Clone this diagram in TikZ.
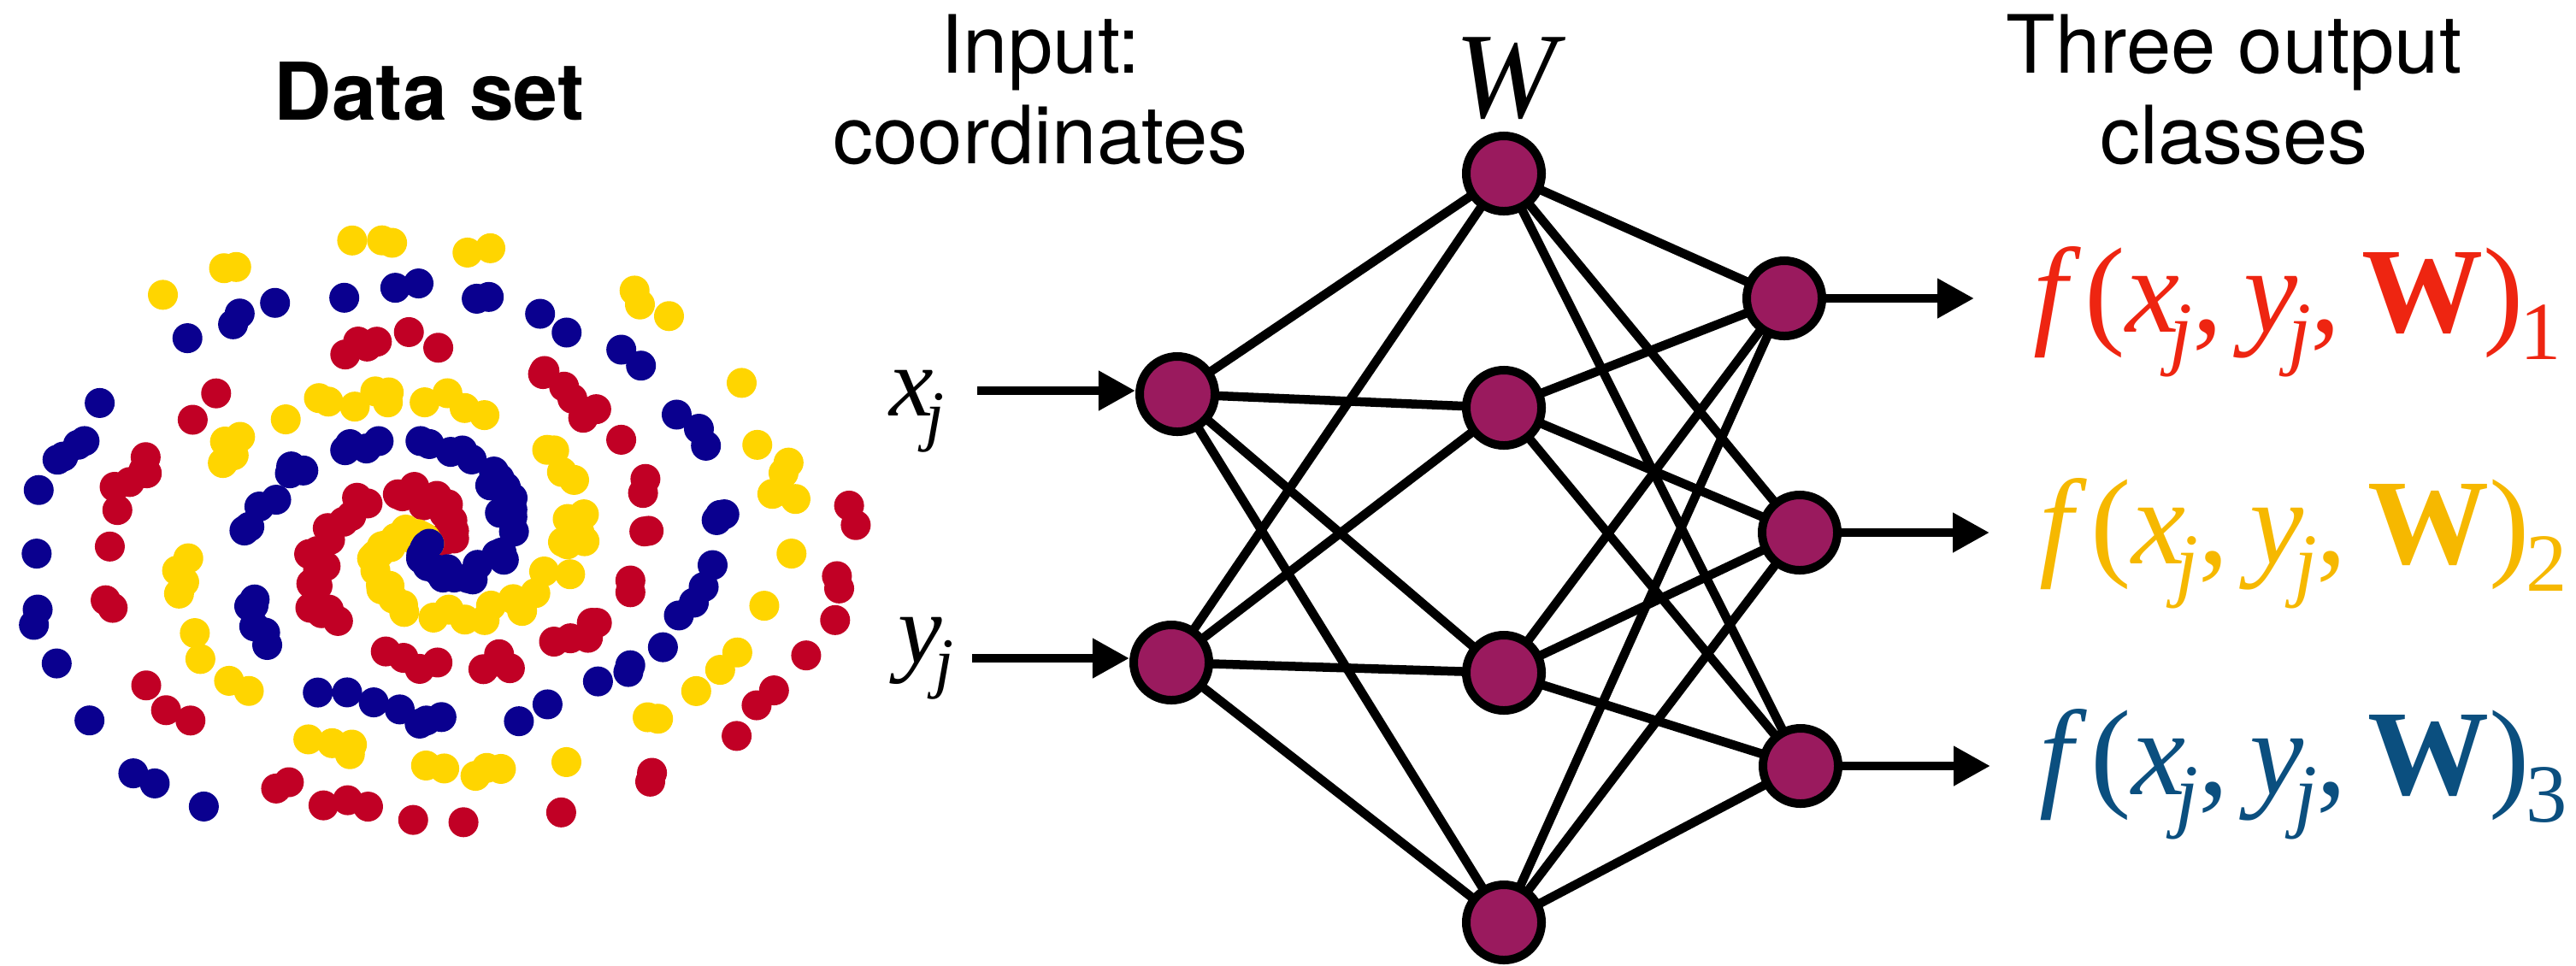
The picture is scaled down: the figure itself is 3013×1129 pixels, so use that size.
\documentclass[tikz,border=0pt]{standalone}
\usepackage{fontspec}
\usepackage{graphicx}
\usetikzlibrary{arrows.meta,backgrounds}
\newfontfamily\heros{TeX Gyre Heros}
\newfontfamily\tms{Liberation Serif}
\definecolor{neuronfill}{HTML}{9A1A5E}
\definecolor{dotred}{HTML}{C10025}
\definecolor{dotyellow}{HTML}{FFD500}
\definecolor{dotblue}{HTML}{0A008F}
\definecolor{outred}{HTML}{EE2511}
\definecolor{outyellow}{HTML}{F6B800}
\definecolor{outblue}{HTML}{0B4F7F}
% lowered, shrunken subscript tucked under the preceding italic letter
\newcommand\lowsub[1]{\kern-0.08em\raisebox{-0.23em}{\scalebox{0.68}{#1}}}
% class score f(x_j, y_j, W)_k
\newcommand\classscore[1]{\textit{f}\kern0.03em(\textit{x}\lowsub{\textit{j}},\hspace{0.17em}\textit{y}\lowsub{\textit{j}},\hspace{0.17em}\textbf{W})\kern0.05em\lowsub{#1}}
\begin{document}
\begin{tikzpicture}[x=0.01cm, y=-0.01cm,
  neuron/.style={circle, draw=black, fill=neuronfill, line width=0.1cm,
    minimum size=0.88cm, inner sep=0pt},
  wire/.style={line width=0.105cm},
  feed/.style={line width=0.105cm, -{Triangle[length=0.43cm,width=0.44cm]}},
  title/.style={anchor=base, inner sep=0pt,
    font=\heros\fontsize{26.75}{30}\selectfont},
  varlabel/.style={anchor=base west, inner sep=0pt,
    font=\tms\fontsize{33}{36}\selectfont},
  scorelabel/.style={anchor=base west, inner sep=0pt,
    font=\tms\fontsize{40.4}{44}\selectfont}]
\useasboundingbox (0,0) rectangle (3013,1129);

% three-arm spiral data set
\pgfmathsetseed{4242}
\foreach \col/\start in {dotred/-12, dotyellow/108, dotblue/-138}{
  \foreach \i in {0,...,99}{
    \pgfmathsetmacro\rad{1.02*\i/99}
    \pgfmathsetmacro\ang{\start+725*\rad+11*(rand+rand+rand)}
    \fill[\col] ({502+490*\rad*cos(\ang)},{636-365*\rad*sin(\ang)}) circle[radius=0.175cm];
  }
}
\node[title, font=\heros\bfseries\fontsize{26.5}{30}\selectfont] (dataset) at (502,140) {Data set};

% column titles
\node[title] (intitleA) at (1217,85) {Input:};
\node[title] (intitleB) at (1217,191) {coordinates};
\node[title] (outtitleA) at (2613,85) {Three output};
\node[title] (outtitleB) at (2613,191) {classes};

% network neurons
\node[neuron] (in1) at (1377,461) {};
\node[neuron] (in2) at (1370,775) {};
\node[neuron] (h1) at (1759,203) {};
\node[neuron] (h2) at (1759,477) {};
\node[neuron] (h3) at (1759,787) {};
\node[neuron] (h4) at (1759,1079) {};
\node[neuron] (o1) at (2087,349) {};
\node[neuron] (o2) at (2105,623) {};
\node[neuron] (o3) at (2106,896) {};

\node[anchor=base, inner sep=0pt, font=\tms\fontsize{40.7}{44}\selectfont] (wlab) at (1766,137) {\textit{W}};

% fully connected weights
\begin{scope}[on background layer]
  \foreach \a in {in1,in2}
    \foreach \b in {h1,h2,h3,h4}
      \draw[wire] (\a.center) -- (\b.center);
  \foreach \a in {h1,h2,h3,h4}
    \foreach \b in {o1,o2,o3}
      \draw[wire] (\a.center) -- (\b.center);
\end{scope}

% inputs
\coordinate (xin) at (1143,457);
\coordinate (yin) at (1137,770);
\draw[feed] (xin) -- (xin -| in1.west);
\draw[feed] (yin) -- (yin -| in2.west);
\node[varlabel] (xlab) at (1040,486) {\textit{x}\lowsub{\textit{j}}};
\node[varlabel] (ylab) at (1050,775) {\textit{y}\lowsub{\textit{j}}};

% outputs
\coordinate (o1tip) at (2309,349);
\coordinate (o2tip) at (2327,623);
\coordinate (o3tip) at (2328,896);
\draw[feed] (o1.east) -- (o1tip);
\draw[feed] (o2.east) -- (o2tip);
\draw[feed] (o3.east) -- (o3tip);
\node[scorelabel, text=outred] (s1) at (2378,388) {\classscore{1}};
\node[scorelabel, text=outyellow] (s2) at (2385,659) {\classscore{2}};
\node[scorelabel, text=outblue] (s3) at (2385,929) {\classscore{3}};
\end{tikzpicture}
\end{document}
